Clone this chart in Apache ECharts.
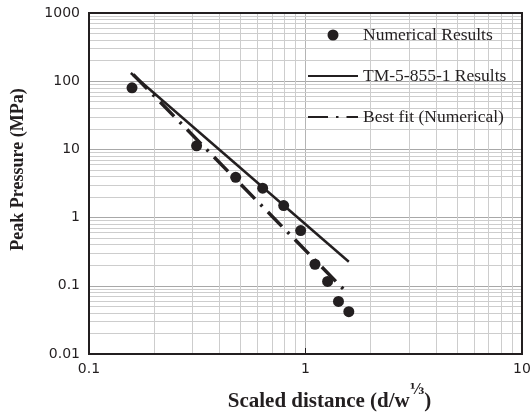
<!DOCTYPE html>
<html>
<head>
<meta charset="utf-8">
<script src="https://cdn.jsdelivr.net/npm/echarts@6/dist/echarts.min.js"></script>
<style>html,body{margin:0;padding:0;background:#fff}#c{width:530px;height:413px}</style>
</head>
<body>
<div id="c"></div>
<script>
// ---- data ----
const numericalX = [0.158, 0.314, 0.476, 0.634, 0.793, 0.95, 1.106, 1.265, 1.42, 1.585];
const numericalY = [80, 11.3, 3.9, 2.7, 1.5, 0.645, 0.207, 0.116, 0.059, 0.0417];
const tmX = [0.156, 1.585];
const tmY = [132, 0.225];
const fitX = [0.16, 1.58];
const fitY = [125, 0.075];
const xTicks = [0.1, 1, 10];
const yTicks = [0.01, 0.1, 1, 10, 100, 1000];
const minorMultipliers = [2, 3, 4, 5, 6, 7, 8, 9];
const seriesNames = ['Numerical Results', 'TM-5-855-1 Results', 'Best fit (Numerical)'];

const ink = '#231f20';
const zip = (xs, ys) => xs.map((x, i) => [x, ys[i]]);

// minor grid lines between the major ticks
const xMinor = [], yMinor = [];
for (let i = 0; i < xTicks.length - 1; i++) minorMultipliers.forEach(m => xMinor.push({xAxis: +(xTicks[i] * m).toPrecision(3)}));
for (let i = 0; i < yTicks.length - 1; i++) minorMultipliers.forEach(m => yMinor.push({yAxis: +(yTicks[i] * m).toPrecision(3)}));

const chart = echarts.init(document.getElementById('c'), null, {renderer: 'canvas'});
chart.setOption({
  animation: false,
  backgroundColor: '#fff',
  grid: {left: 89, right: 8, top: 13, bottom: 59, show: true, borderColor: ink, borderWidth: 2, z: 3,
    containLabel: false, outerBoundsMode: 'none'},
  legend: {
    orient: 'vertical', left: 302, top: 21, itemWidth: 50, itemHeight: 11, itemGap: 23, z: 10,
    data: [
      {name: seriesNames[0]},
      {name: seriesNames[1], itemStyle: {opacity: 0}},
      {name: seriesNames[2], itemStyle: {opacity: 0}}
    ],
    textStyle: {fontFamily: 'Liberation Serif', fontSize: 17.5, color: ink}
  },
  xAxis: {
    type: 'log', min: 0.1, max: 10, logBase: 10,
    axisLine: {show: false},
    axisTick: {show: true, inside: true, length: 6, lineStyle: {color: ink, width: 1}},
    axisLabel: {margin: 8, fontFamily: 'DejaVu Sans', fontSize: 14, color: ink,
      formatter: v => String(+v.toPrecision(3))},
    splitLine: {show: true, lineStyle: {color: '#b4b4b4', width: 1}},
    name: '{a|Scaled distance (d/w}{b|⅓}{a|)}',
    nameLocation: 'middle', nameGap: 29,
    nameTextStyle: {
      padding: [0, 0, 0, 48],
      rich: {
        a: {fontFamily: 'Liberation Serif', fontWeight: 'bold', fontSize: 21, color: ink, lineHeight: 29, verticalAlign: 'bottom'},
        b: {fontFamily: 'DejaVu Serif', fontWeight: 'bold', fontSize: 14, color: ink, lineHeight: 17, verticalAlign: 'top'}
      }
    }
  },
  yAxis: {
    type: 'log', min: 0.01, max: 1000, logBase: 10,
    axisLine: {show: false},
    axisTick: {show: false},
    axisLabel: {margin: 9, fontFamily: 'DejaVu Sans', fontSize: 14, color: ink,
      formatter: v => String(+v.toPrecision(3))},
    splitLine: {show: true, lineStyle: {color: '#a8a8a8', width: 1}},
    name: 'Peak Pressure (MPa)',
    nameLocation: 'middle', nameGap: 62, nameRotate: 90,
    nameTextStyle: {fontFamily: 'Liberation Serif', fontWeight: 'bold', fontSize: 18, color: ink, padding: [0, 0, 0, 28]}
  },
  series: [
    {
      type: 'scatter', name: '__grid', data: [], silent: true, z: 1,
      markLine: {
        silent: true, z: 1, symbol: ['none', 'none'], label: {show: false},
        lineStyle: {color: '#cdcdcd', width: 1, type: 'solid'},
        emphasis: {disabled: true},
        data: xMinor.concat(yMinor)
      }
    },
    {
      type: 'line', name: seriesNames[1], data: zip(tmX, tmY), symbol: 'none', z: 4,
      lineStyle: {color: ink, width: 2.5}, itemStyle: {color: ink}
    },
    {
      type: 'line', name: seriesNames[2], data: zip(fitX, fitY), symbol: 'none', z: 4,
      lineStyle: {color: ink, width: 3.5, type: [20, 8, 2.5, 8], cap: 'butt'}, itemStyle: {color: ink}
    },
    {
      type: 'scatter', name: seriesNames[0], data: zip(numericalX, numericalY), symbol: 'circle', symbolSize: 11, z: 5,
      itemStyle: {color: ink, opacity: 1}
    }
  ]
});
</script>
</body>
</html>
